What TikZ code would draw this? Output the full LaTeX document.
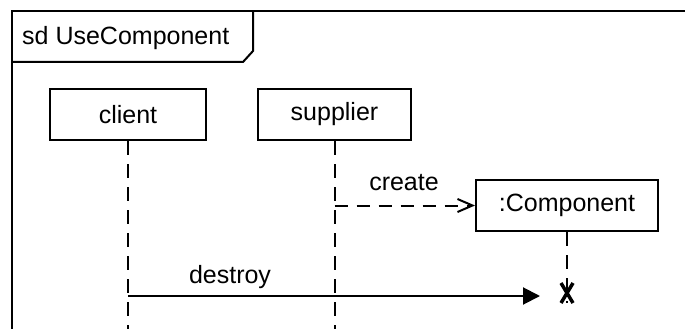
\documentclass[tikz,border=0pt]{standalone}
\usepackage{fontspec}
\setmainfont{Liberation Sans}
\usetikzlibrary{arrows.meta}

\tikzset{
  umlline/.style={line width=2pt, line cap=butt},
  objbox/.style={draw, line width=2pt, minimum height=51pt, inner sep=0pt, font=\fontsize{25pt}{30pt}\selectfont},
  lifeline/.style={line width=2pt, dash pattern=on 14pt off 9pt},
  msgcreate/.style={line width=2pt, dash pattern=on 13pt off 9pt, -{Straight Barb[length=15pt,width=13pt]}},
  msgsync/.style={line width=2pt, -{Triangle[length=17pt,width=17pt]}},
  lbl/.style={font=\fontsize{25pt}{30pt}\selectfont, inner sep=0pt},
  destroymark/.style={line width=3.5pt, line cap=butt}
}

\begin{document}
\begin{tikzpicture}[x=1pt, y=-1pt]
  \useasboundingbox (0,0) rectangle (685,329);
  \clip (0,0) rectangle (685,329);

  % interaction frame, running off the right and bottom edges
  \draw[umlline] (12,340) -- (12,11.5) -- (700,11.5);
  % frame name tab with cut corner
  \draw[umlline] (12,62) -- (243,62) -- (253,51) -- (253,11.5);
  \node[lbl, anchor=base west] (title) at (22,45) {sd UseComponent};

  % lifeline heads
  \node[objbox, minimum width=156pt] (client) at (128,114.5) {client};
  \node[objbox, minimum width=153pt] (supplier) at (334.5,114.5) {supplier};
  \node[objbox, minimum width=182pt] (comp) at (567,205.5) {:Component};

  % lifeline ends
  \coordinate (clientEnd) at (128,345);
  \coordinate (supplierEnd) at (334.5,345);
  \coordinate (destroyX) at (567,293);

  % lifelines
  \draw[lifeline] (client.south) -- (clientEnd);
  \draw[lifeline] (supplier.south) -- (supplierEnd);
  \draw[lifeline] (comp.south) -- ([yshift=-10pt]destroyX);

  % create message
  \draw[msgcreate] (supplier.south |- comp.west) -- (comp.west);
  \node[lbl, anchor=base] (createLbl) at (404,190) {create};

  % destroy message
  \coordinate (destroyStart) at (128,296);
  \coordinate (destroyTip) at (540,296);
  \draw[msgsync] (destroyStart) -- (destroyTip);
  \node[lbl, anchor=base] (destroyLbl) at (230,283) {destroy};

  % destruction occurrence
  \draw[destroymark] ([shift={(-6pt,-10pt)}]destroyX) -- ([shift={(6pt,10pt)}]destroyX);
  \draw[destroymark] ([shift={(6pt,-10pt)}]destroyX) -- ([shift={(-6pt,10pt)}]destroyX);
\end{tikzpicture}
\end{document}
